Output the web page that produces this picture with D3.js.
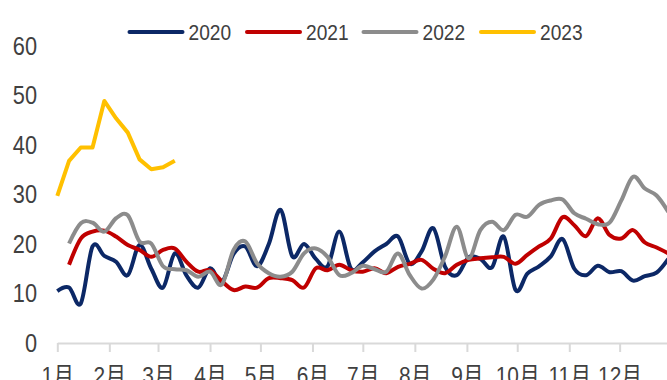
<!DOCTYPE html>
<html>
<head>
<meta charset="utf-8">
<script src="https://cdn.jsdelivr.net/npm/d3@7"></script>
<style>
  body { margin: 0; background: #fff; }
  text { font-family: "Liberation Sans", "Noto Sans CJK SC", sans-serif; fill: #404040; }
</style>
</head>
<body>
<div id="chart"></div>
<script>
// weekly values, index = week of the year (null = no data)
var years = ["2020", "2021", "2022", "2023"];
var colors = ["#0c2866", "#c00000", "#8c8c8c", "#ffc000"];
var s2020 = [10.5, 11.2, 8.0, 19.5, 17.6, 16.4, 13.7, 19.8, 15.0, 11.2, 18.1, 13.6, 11.2, 15.1, 12.3,
  18.0, 19.5, 15.5, 20.0, 26.9, 17.5, 20.0, 17.0, 15.5, 22.5, 15.0, 16.3, 18.5, 20.0, 21.5,
  16.0, 18.5, 23.2, 15.4, 13.7, 17.3, 17.0, 15.3, 21.5, 10.7, 14.0, 15.5, 17.5, 21.0, 15.0,
  13.7, 15.6, 14.3, 14.5, 12.6, 13.5, 14.2, 17.0];
var s2021 = [null, 15.8, 21.1, 22.5, 22.7, 21.5, 19.8, 18.8, 17.4, 18.8, 19.1, 16.4, 14.4, 14.7, 12.5,
  10.7, 11.4, 11.2, 13.1, 13.1, 12.7, 11.2, 15.1, 14.7, 15.8, 14.7, 14.4, 15.1, 14.1, 15.4,
  16.0, 16.8, 15.0, 14.1, 15.8, 16.8, 17.1, 17.3, 17.4, 16.0, 17.8, 19.5, 21.1, 25.4, 23.8,
  21.6, 25.2, 21.8, 21.1, 22.8, 20.3, 19.3, 18.1];
var s2022 = [null, 20.1, 24.2, 24.3, 22.5, 25.2, 25.8, 20.5, 20.1, 15.5, 14.9, 14.7, 13.4, 14.4, 11.8,
  18.8, 20.5, 16.1, 14.1, 13.4, 14.4, 18.1, 19.1, 17.4, 13.7, 14.1, 15.6, 14.9, 14.4, 18.1,
  13.7, 11.0, 12.8, 17.5, 23.5, 17.1, 22.8, 24.5, 22.8, 25.9, 25.5, 27.9, 28.8, 29.0, 26.2,
  25.1, 24.0, 24.3, 28.8, 33.6, 31.2, 29.8, 26.5];
var s2023 = [29.7, 36.8, 39.5, 39.5, 48.9, 45.4, 42.5, 37.1, 35.1, 35.5, 36.8];
var yTicks = [0, 10, 20, 30, 40, 50, 60];

var series = [s2020, s2021, s2022, s2023];
var curves = [d3.curveCatmullRom.alpha(0), d3.curveCatmullRom.alpha(0), d3.curveCatmullRom.alpha(0), d3.curveLinear];

var W = 667, H = 380;
var squeeze = "scale(0.87,1)"; // narrow text, closer to the original face
var svg = d3.select("#chart").append("svg").attr("width", W).attr("height", H);

var t0 = new Date(2020, 0, 1);
var x = d3.scaleTime().domain([t0, new Date(2020, 11, 31)]).range([57.3, 670]);
var y = d3.scaleLinear().domain([0, 60]).range([343, 46]);

function weekDate(i){ return d3.timeDay.offset(t0, 7 * i); }

// y labels
var gy = svg.append("g").attr("transform", "translate(37,0)")
  .call(d3.axisLeft(y).tickValues(yTicks).tickSize(0).tickPadding(0));
gy.select(".domain").remove();
gy.selectAll("text").style("font-size", "25px").style("font-family", null)
  .attr("fill", "#404040").attr("transform", squeeze);

// x axis
var gx = svg.append("g").attr("transform", "translate(0,343)")
  .call(d3.axisBottom(x).ticks(d3.timeMonth.every(1))
    .tickFormat(function(d){ return (d.getMonth() + 1) + "月"; })
    .tickSize(9).tickSizeOuter(0).tickPadding(15));
gx.select(".domain").attr("stroke", "#d9d9d9").attr("stroke-width", 2);
gx.selectAll(".tick line").attr("stroke", "#d9d9d9").attr("stroke-width", 2);
gx.selectAll("text").style("font-size", "24px").style("font-family", null)
  .attr("fill", "#404040").attr("transform", squeeze);

// lines
series.forEach(function(s, k){
  var line = d3.line()
    .defined(function(d){ return d != null; })
    .x(function(d, i){ return x(weekDate(i)); })
    .y(function(d){ return y(d); })
    .curve(curves[k]);
  svg.append("path").datum(s)
    .attr("d", line)
    .attr("fill", "none")
    .attr("stroke", colors[k])
    .attr("stroke-width", 4)
    .attr("stroke-linejoin", "round");
});

// legend
var legX = [129.5, 247, 363.5, 481];
var leg = svg.append("g").attr("class", "legend");
years.forEach(function(yr, k){
  leg.append("line").attr("x1", legX[k]).attr("x2", legX[k] + 53)
    .attr("y1", 32).attr("y2", 32)
    .attr("stroke", colors[k]).attr("stroke-width", 4).attr("stroke-linecap", "round");
  leg.append("text").attr("transform", "translate(" + (legX[k] + 59) + ",32) " + squeeze)
    .attr("dy", "0.35em")
    .style("font-size", "22px").text(yr);
});
</script>
</body>
</html>
